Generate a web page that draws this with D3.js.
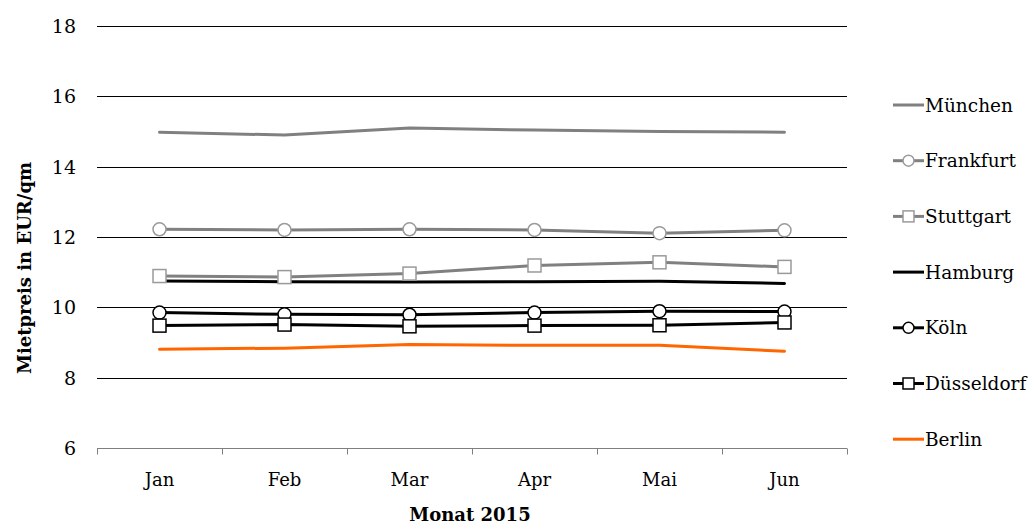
<!DOCTYPE html>
<html><head><meta charset="utf-8">
<script src="https://cdn.jsdelivr.net/npm/d3@7"></script>
<style>body{margin:0;background:#fff}svg text{font-family:"DejaVu Serif",serif;fill:#000}</style>
</head><body>
<svg id="c" width="1034" height="525"></svg>
<script>
const months = ["Jan","Feb","Mar","Apr","Mai","Jun"];
const yTicks = [6,8,10,12,14,16,18];
const muenchen   = [14.98,14.90,15.10,15.04,15.00,14.98];
const frankfurt  = [12.22,12.20,12.22,12.20,12.11,12.19];
const stuttgart  = [10.89,10.86,10.96,11.19,11.28,11.15];
const hamburg    = [10.75,10.73,10.72,10.73,10.74,10.68];
const koeln      = [9.85,9.80,9.79,9.85,9.89,9.88];
const duesseldorf= [9.48,9.51,9.46,9.48,9.49,9.57];
const berlin     = [8.81,8.84,8.94,8.92,8.92,8.75];
const series = [
  {name:"München", values:muenchen, color:"#808080", marker:null},
  {name:"Frankfurt", values:frankfurt, color:"#808080", marker:"circle", mstroke:"#9a9a9a"},
  {name:"Stuttgart", values:stuttgart, color:"#808080", marker:"square", mstroke:"#9a9a9a"},
  {name:"Hamburg", values:hamburg, color:"#000000", marker:null},
  {name:"Köln", values:koeln, color:"#000000", marker:"circle", mstroke:"#000"},
  {name:"Düsseldorf", values:duesseldorf, color:"#000000", marker:"square", mstroke:"#000"},
  {name:"Berlin", values:berlin, color:"#ff6600", marker:null}
];
const svg = d3.select("#c");
const x = d3.scaleBand().domain(months).range([97,847]);
const y = d3.scaleLinear().domain([6,18]).range([448,26]);
svg.append("g").selectAll("line").data(yTicks.filter(t=>t>6)).join("line")
  .attr("x1",97).attr("x2",847).attr("y1",d=>Math.round(y(d))+0.5).attr("y2",d=>Math.round(y(d))+0.5)
  .attr("stroke","#000").attr("stroke-width",1);
svg.append("g").selectAll("text").data(yTicks).join("text")
  .attr("x",76).attr("y",d=>y(d)).attr("dy","0.36em").attr("text-anchor","end")
  .attr("font-size",19).text(d=>d);
const xa = svg.append("g").attr("transform","translate(0,448.5)");
xa.append("line").attr("x1",97).attr("x2",847).attr("stroke","#808080").attr("stroke-width",1);
const bounds = months.map(m=>x(m)).concat([x.range()[1]]);
xa.selectAll("line.t").data(bounds).join("line").attr("class","t")
  .attr("x1",d=>Math.round(d)+0.5).attr("x2",d=>Math.round(d)+0.5).attr("y1",0).attr("y2",6)
  .attr("stroke","#808080");
svg.append("g").selectAll("text").data(months).join("text")
  .attr("x",d=>x(d)+x.bandwidth()/2).attr("y",486).attr("text-anchor","middle")
  .attr("font-size",18).text(d=>d);
svg.append("text").attr("x",470).attr("y",521).attr("text-anchor","middle")
  .attr("font-size",18).attr("font-weight","bold").text("Monat 2015");
svg.append("text").attr("transform","translate(31,268) rotate(-90)").attr("text-anchor","middle")
  .attr("font-size",18).attr("font-weight","bold").text("Mietpreis in EUR/qm");
const line = d3.line().x((d,i)=>x(months[i])+x.bandwidth()/2).y(d=>y(d));
const g = svg.append("g");
series.forEach(s=>{
  g.append("path").attr("d",line(s.values)).attr("fill","none").attr("stroke",s.color)
    .attr("stroke-width",3).attr("stroke-linejoin","round").attr("stroke-linecap","round");
});
series.forEach(s=>{
  if(!s.marker) return;
  const pts = g.append("g").selectAll("x").data(s.values).join(s.marker==="circle"?"circle":"rect");
  if(s.marker==="circle"){
    pts.attr("cx",(d,i)=>x(months[i])+x.bandwidth()/2).attr("cy",d=>y(d)).attr("r",6.5);
  } else {
    pts.attr("x",(d,i)=>x(months[i])+x.bandwidth()/2-6.5).attr("y",d=>y(d)-6.5).attr("width",13).attr("height",13);
  }
  pts.attr("fill","#fff").attr("stroke",s.mstroke).attr("stroke-width",1.5);
});
const lg = svg.append("g");
series.forEach((s,i)=>{
  const cy = 105 + i*55.7;
  const it = lg.append("g");
  it.append("line").attr("x1",893).attr("x2",924).attr("y1",cy).attr("y2",cy)
    .attr("stroke",s.color).attr("stroke-width",3);
  if(s.marker==="circle") it.append("circle").attr("cx",908.5).attr("cy",cy).attr("r",5.5)
    .attr("fill","#fff").attr("stroke",s.mstroke).attr("stroke-width",1.5);
  if(s.marker==="square") it.append("rect").attr("x",903).attr("y",cy-5.5).attr("width",11).attr("height",11)
    .attr("fill","#fff").attr("stroke",s.mstroke).attr("stroke-width",1.5);
  it.append("text").attr("x",925).attr("y",cy).attr("dy","0.36em").attr("font-size",18.5).text(s.name);
});
</script>
</body></html>
